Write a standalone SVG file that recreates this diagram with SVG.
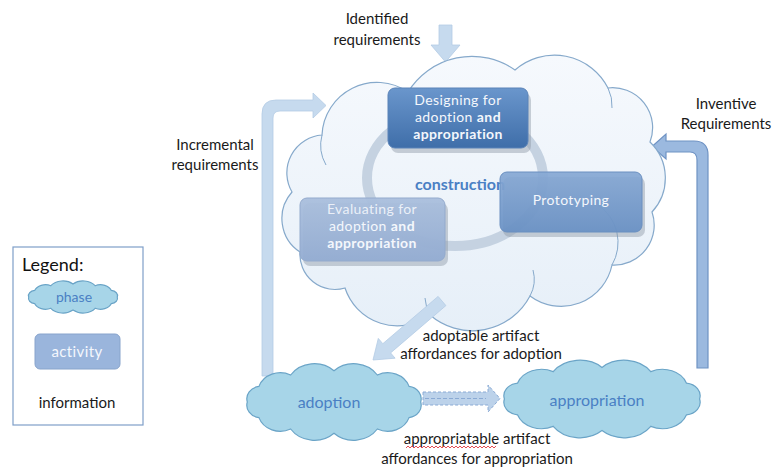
<svg xmlns="http://www.w3.org/2000/svg" width="777" height="468" viewBox="0 0 777 468">
<defs>
<style>
.t{font-family:Lato,"Liberation Sans",sans-serif;font-size:15px;fill:#1a1a1a;text-anchor:middle}
.bx{font-family:Lato,"Liberation Sans",sans-serif;font-size:14px;fill:#f4f7fc;text-anchor:middle;letter-spacing:0.4px}
.b{font-weight:bold}
.ph{font-family:Lato,"Liberation Sans",sans-serif;font-size:16px;fill:#4a80c4;text-anchor:middle}
.cl{fill:#a7d5e8;stroke:#6aa4c7;stroke-width:1.2}
.arr{fill:#c6daee;stroke:#b4cce4;stroke-width:0.8}
.shadow{fill:#8f98a6;opacity:0.45}
</style>
<path id="cloud" vector-effect="non-scaling-stroke" d="M -100,0 A 16,16 0 0 1 -86.6,-20 A 26,26 0 0 1 -50,-34.6 A 33,33 0 0 1 0,-40 A 33,33 0 0 1 50,-34.6 A 26,26 0 0 1 86.6,-20 A 16,16 0 0 1 100,0 A 16,16 0 0 1 86.6,20 A 26,26 0 0 1 50,34.6 A 33,33 0 0 1 0,40 A 33,33 0 0 1 -50,34.6 A 26,26 0 0 1 -86.6,20 A 16,16 0 0 1 -100,0 Z"/>
<linearGradient id="gBig" x1="0" y1="0" x2="0" y2="1">
<stop offset="0" stop-color="#f6f9fd"/>
<stop offset="1" stop-color="#e6eff8"/>
</linearGradient>
<linearGradient id="gDes" x1="0" y1="0" x2="0" y2="1">
<stop offset="0" stop-color="#6a96cc"/>
<stop offset="1" stop-color="#3f6ea9"/>
</linearGradient>
<linearGradient id="gProto" x1="0" y1="0" x2="0" y2="1">
<stop offset="0" stop-color="#86a8d4"/>
<stop offset="1" stop-color="#6890c4"/>
</linearGradient>
<linearGradient id="gEval" x1="0" y1="0" x2="0" y2="1">
<stop offset="0" stop-color="#aabfdd"/>
<stop offset="1" stop-color="#93acd2"/>
</linearGradient>
</defs>
<rect width="777" height="468" fill="#ffffff"/>

<!-- connectors -->
<g id="connectors">
<path id="incremental" class="arr" d="M 262,376 V 114 Q 262,100 276,100 H 313 V 93 L 326,105.5 L 313,118 V 111 H 280 Q 273,111 273,118 V 376 Z"/>
<path id="inventive" d="M 708,368 V 155 Q 708,141 694,141 H 666 V 134 L 652,146.5 L 666,159 V 152 H 690 Q 697,152 697,160 V 368 Z" fill="#9bb9df" stroke="#6f93c4" stroke-width="1.2"/>
<path id="identified" class="arr" d="M 439,25 H 452 V 45 H 460 L 445.5,62 L 431,45 H 439 Z"/>
</g>

<!-- construction phase -->
<g id="construction">
<path d="M 300,252 A 40,40 0 0 1 292,192 A 38,38 0 0 1 322,135 A 55,55 0 0 1 408,92 A 75,75 0 0 1 515,70 A 60,60 0 0 1 608,88 A 40,40 0 0 1 650,142 A 50,50 0 0 1 652,212 A 40,40 0 0 1 612,265 A 52,52 0 0 1 530,296 A 65,65 0 0 1 430,315 A 55,55 0 0 1 345,288 A 35,35 0 0 1 300,252 Z" fill="url(#gBig)" stroke="#86a9cb" stroke-width="1.2"/>
<path d="M 322,135 A 40,40 0 0 0 326,165 M 408,92 A 30,30 0 0 0 414,112 M 608,88 A 40,40 0 0 1 612,108 M 612,265 A 45,45 0 0 0 598,205 M 430,315 A 40,40 0 0 1 425,298 M 530,296 A 35,35 0 0 0 533,270" fill="none" stroke="#86a9cb" stroke-width="1"/>
<ellipse cx="455" cy="178" rx="88" ry="68" fill="none" stroke="#c5d2e1" stroke-width="10"/>
<text class="ph b" x="460" y="190" font-size="16" fill="#4a7cbf" style="font-size:16px">construction</text>
</g>

<g id="designing">
<rect class="shadow" x="391" y="93" width="140" height="60" rx="7"/>
<rect x="388" y="88" width="140" height="60" rx="7" fill="url(#gDes)" stroke="#5a83b8" stroke-width="1"/>
<text class="bx" x="458" y="105">Designing for</text>
<text class="bx" x="458" y="122">adoption <tspan class="b">and</tspan></text>
<text class="bx b" x="458" y="139">appropriation</text>
</g>

<g id="prototyping">
<rect class="shadow" x="503" y="177" width="142" height="60" rx="7"/>
<rect x="500" y="172" width="142" height="60" rx="7" fill="url(#gProto)" fill-opacity="0.92" stroke="#6a8fc0" stroke-width="1"/>
<text class="bx" x="571" y="205">Prototyping</text>
</g>

<g id="evaluating">
<rect class="shadow" x="303" y="203" width="145" height="63" rx="7"/>
<rect x="300" y="198" width="145" height="63" rx="7" fill="url(#gEval)" fill-opacity="0.95" stroke="#93aacd" stroke-width="1"/>
<text class="bx" x="372" y="214" fill-opacity="0.9">Evaluating for</text>
<text class="bx" x="372" y="231">adoption <tspan class="b">and</tspan></text>
<text class="bx b" x="372" y="248">appropriation</text>
</g>

<g id="connectors2">
<path id="adoptable" class="arr" d="M 445.9,305.6 L 390.6,352.9 L 395.1,358.2 L 373,360 L 378.3,338.4 L 382.8,343.7 L 438.1,296.4 Z"/>
<g id="dashed">
<path d="M 423,392 H 488 V 385 L 500,398.5 L 488,412 V 405 H 423 Z" fill="#bcd2ea" stroke="#8aaad4" stroke-width="1" stroke-dasharray="3 2"/>
<line x1="425" y1="398.5" x2="486" y2="398.5" stroke="#8aaad4" stroke-width="1" stroke-dasharray="4 2"/>
</g>
</g>

<g id="adoption">
<use href="#cloud" class="cl" transform="translate(334,402) scale(0.867,0.78)"/>
<text class="ph" x="329" y="408">adoption</text>
</g>

<g id="appropriation">
<use href="#cloud" class="cl" transform="translate(602,399) scale(0.976,0.79)"/>
<text class="ph" x="597" y="406">appropriation</text>
</g>

<g id="labels">
<text class="t" x="377" y="24">Identified</text>
<text class="t" x="377" y="45">requirements</text>
<text class="t" x="215" y="150">Incremental</text>
<text class="t" x="215" y="170">requirements</text>
<text class="t" x="726" y="109">Inventive</text>
<text class="t" x="726" y="129">Requirements</text>
<text class="t" x="481" y="341">adoptable artifact</text>
<text class="t" x="481" y="359">affordances for adoption</text>
<text class="t" x="477" y="444">appropriatable artifact</text>
<text class="t" x="477" y="464">affordances for appropriation</text>
<path d="M 406,448 l 2,-2 l 2,2 l 2,-2 l 2,2 l 2,-2 l 2,2 l 2,-2 l 2,2 l 2,-2 l 2,2 l 2,-2 l 2,2 l 2,-2 l 2,2 l 2,-2 l 2,2 l 2,-2 l 2,2 l 2,-2 l 2,2 l 2,-2 l 2,2 l 2,-2 l 2,2 l 2,-2 l 2,2 l 2,-2 l 2,2 l 2,-2 l 2,2 l 2,-2 l 2,2 l 2,-2 l 2,2 l 2,-2 l 2,2 l 2,-2 l 2,2 l 2,-2 l 2,2 l 2,-2 l 2,2 l 2,-2 l 2,2 l 2,-2" fill="none" stroke="#e0393e" stroke-width="0.9"/>
</g>

<g id="legend">
<rect x="13" y="247" width="130" height="178" fill="#ffffff" stroke="#7f9fc9" stroke-width="1.2"/>
<text x="22" y="271" style="font-family:Lato,'Liberation Sans',sans-serif;font-size:18px;fill:#111">Legend:</text>
<use href="#cloud" class="cl" transform="translate(73,297) scale(0.443,0.327)"/>
<text class="ph" x="74" y="302" style="font-size:14px">phase</text>
<rect x="35" y="334" width="85" height="35" rx="5" fill="#9ab5dc" stroke="#88a4cc" stroke-width="1"/>
<text class="bx" x="77" y="357" style="font-size:15px">activity</text>
<text class="t" x="77" y="408">information</text>
</g>
</svg>
